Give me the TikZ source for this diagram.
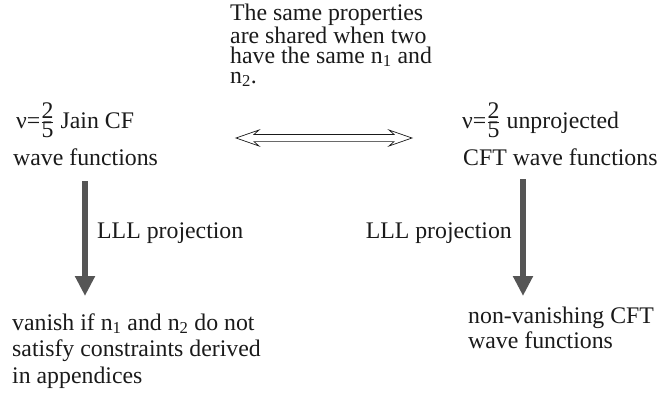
\documentclass[tikz,border=0pt]{standalone}
\usepackage{fontspec}
\setmainfont{Liberation Serif}
\usetikzlibrary{arrows.meta,calc,positioning}
\definecolor{ink}{HTML}{1A1A1A}
\definecolor{arrgray}{HTML}{555555}
\tikzset{
  projarr/.style={-{Triangle[length=20pt,width=19pt]},line width=6.5pt,color=arrgray},
  plaintext/.style={inner sep=0pt,anchor=base west,align=left,font=\fontsize{23.8}{26.5}\selectfont,text=ink},
  swaparr/.style={draw=ink,line width=0.7pt,fill=white,line join=miter}
}
\begin{document}
\begin{tikzpicture}[x=1pt,y=-1pt]
  \useasboundingbox (0,0) rectangle (661,397);
  % the two families of wave functions
  \node[plaintext] (jain) at (16,128) {ν=$\frac{\mbox{2}}{\mbox{5}}$ Jain CF};
  \node[plaintext] (jainwf) at (13,165) {wave functions};
  \node[plaintext] (cft) at (462,128) {ν=$\frac{\mbox{2}}{\mbox{5}}$ unprojected};
  \node[plaintext] (cftwf) at (463,165) {CFT wave functions};
  % base of a multi-line node is its last line
  \node[plaintext,font=\fontsize{23.8}{20}\selectfont] (shared) at (230,83)
    {The same properties\\are shared when two\\have the same n\textsubscript{1} and\\n\textsubscript{2}.};
  % hollow double arrow
  \coordinate (dl) at (236,138);
  \coordinate (dr) at (412,138);
  \draw[swaparr] (dl) -- ($(dl)+(23,-8)$) -- ($(dl)+(18,-3.6)$) -- ($(dr)+(-18,-3.6)$)
    -- ($(dr)+(-23,-8)$) -- (dr) -- ($(dr)+(-23,8)$) -- ($(dr)+(-18,3.6)$)
    -- ($(dl)+(18,3.6)$) -- ($(dl)+(23,8)$) -- cycle;
  % projection arrows
  \coordinate (ltop) at (85,181);
  \coordinate (lbot) at (85,296);
  \coordinate (rtop) at (523,179);
  \coordinate (rbot) at (523,296);
  \draw[projarr] (ltop) -- (lbot);
  \draw[projarr] (rtop) -- (rbot);
  \node[plaintext] (lproj) at (97,238) {LLL projection};
  \node[plaintext,anchor=base east] (rproj) at (512,238) {LLL projection};
  % results
  \node[plaintext] (vanish) at (12,383)
    {vanish if n\textsubscript{1} and n\textsubscript{2} do not\\satisfy constraints derived\\in appendices};
  \node[plaintext,font=\fontsize{23.8}{25}\selectfont] (nonvan) at (468,348)
    {non-vanishing CFT\\wave functions};
\end{tikzpicture}
\end{document}
